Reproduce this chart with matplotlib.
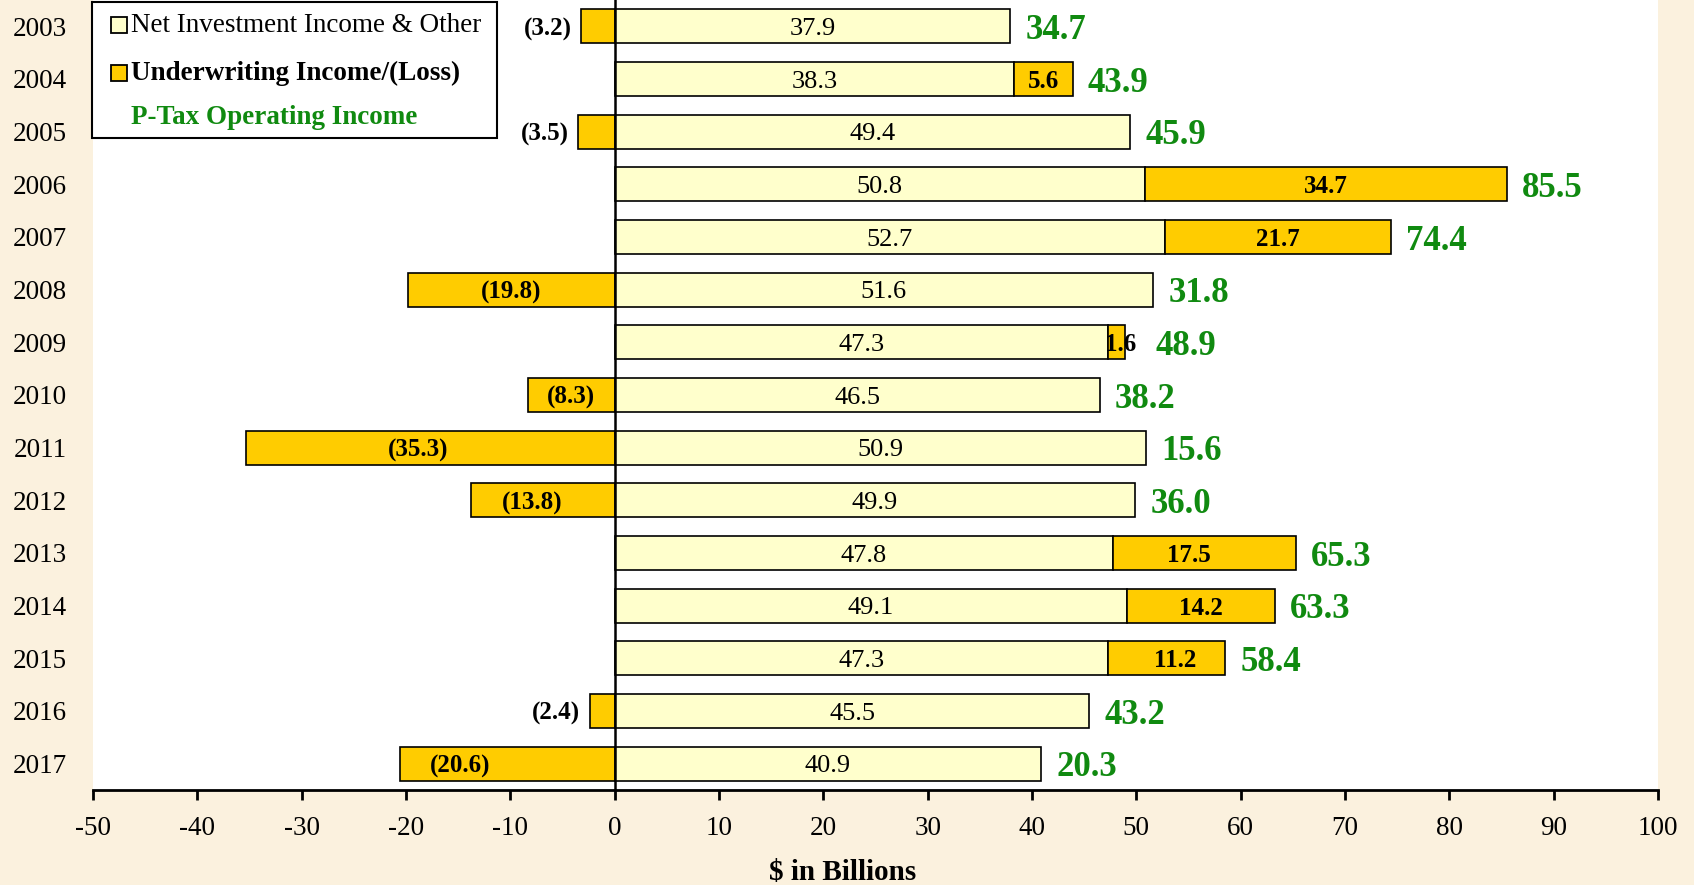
import numpy as np
import matplotlib.pyplot as plt
from matplotlib.patches import Rectangle

plt.rcParams['font.family'] = ['Liberation Serif', 'DejaVu Serif']
plt.rcParams['axes.unicode_minus'] = False

years = ['2003', '2004', '2005', '2006', '2007', '2008', '2009', '2010',
         '2011', '2012', '2013', '2014', '2015', '2016', '2017']
net_invest = [37.9, 38.3, 49.4, 50.8, 52.7, 51.6, 47.3, 46.5,
              50.9, 49.9, 47.8, 49.1, 47.3, 45.5, 40.9]
underwriting = [-3.2, 5.6, -3.5, 34.7, 21.7, -19.8, 1.6, -8.3,
                -35.3, -13.8, 17.5, 14.2, 11.2, -2.4, -20.6]
pretax_total = [34.7, 43.9, 45.9, 85.5, 74.4, 31.8, 48.9, 38.2,
                15.6, 36.0, 65.3, 63.3, 58.4, 43.2, 20.3]

# small hand nudges for a few underwriting labels (in $B)
uw_nudge = {'2011': -1.2, '2012': -1.0, '2013': -1.5, '2015': 0.8,
            '2017': -4.5, '2009': 0.4}

bg = '#FBF1DE'
light = '#FFFFCC'
gold = '#FFCC00'
green = '#108A10'

W, H = 1694, 885
fig = plt.figure(figsize=(W / 100, H / 100), dpi=100, facecolor=bg)
ax = fig.add_axes([93 / W, 95 / H, 1565 / W, 790 / H])
ax.set_facecolor('white')

y = np.arange(len(years))
h = 0.64

ax.barh(y, net_invest, height=h, color=light, edgecolor='black', linewidth=1.2, zorder=2)
# gains stack on the right of investment income, losses hang left of zero
uw_left = [n if u > 0 else 0 for n, u in zip(net_invest, underwriting)]
ax.barh(y, underwriting, left=uw_left, height=h, color=gold, edgecolor='black',
        linewidth=1.2, zorder=2)

ax.axvline(0, color='black', linewidth=1.8, zorder=3)

va = 'center_baseline'
for i, yr in enumerate(years):
    n, u, t = net_invest[i], underwriting[i], pretax_total[i]
    ax.text(n / 2, i, f'{n:.1f}', ha='center', va=va, fontsize=19, zorder=4)

    txt = f'({abs(u):.1f})' if u < 0 else f'{u:.1f}'
    if u < 0 and abs(u) < 4:
        ax.annotate(txt, (u, i), xytext=(-7, 0), textcoords='offset points',
                    ha='right', va=va, fontsize=18, fontweight='bold', zorder=4)
    else:
        cx = uw_left[i] + u / 2 + uw_nudge.get(yr, 0)
        ax.text(cx, i, txt, ha='center', va=va, fontsize=18,
                fontweight='bold', zorder=4)

    end = n + max(u, 0)
    dx = 22 if yr == '2009' else 11
    ax.annotate(f'{t:.1f}', (end, i), xytext=(dx, 0), textcoords='offset points',
                ha='left', va=va, fontsize=25, fontweight='bold', color=green)

ax.set_xlim(-50, 100)
ax.set_ylim(len(years) - 0.5, -0.5)
ax.set_xticks(np.arange(-50, 101, 10))
ax.set_yticks(y)
ax.set_yticklabels(years)

for s in ['left', 'right', 'top']:
    ax.spines[s].set_visible(False)
ax.spines['bottom'].set_linewidth(2)
ax.tick_params(axis='x', direction='out', length=7, width=2, labelsize=19.5, pad=12)
ax.tick_params(axis='y', length=0, labelsize=19.5, pad=19)
ax.set_xlabel('$ in Billions', fontsize=21, fontweight='bold', labelpad=13, x=0.479)

# legend box drawn by hand (figure pixel coords, measured from the top)
def fx(px):
    return px / W

def fy(py):
    return 1 - py / H

fig.patches.append(Rectangle((fx(92), fy(138)), fx(497) - fx(92), fy(2) - fy(138),
                             transform=fig.transFigure, facecolor='white',
                             edgecolor='black', linewidth=1.5, zorder=5))
leg_rows = [('Net Investment Income & Other', light, 'normal', 'black', 25),
            ('Underwriting Income/(Loss)', gold, 'bold', 'black', 73),
            ('P-Tax Operating Income', None, 'bold', green, 118)]
for label, fc, weight, col, py in leg_rows:
    if fc is not None:
        fig.patches.append(Rectangle((fx(111), fy(py + 8)), fx(16), 16 / H,
                                     transform=fig.transFigure, facecolor=fc,
                                     edgecolor='black', linewidth=1.3, zorder=6))
    fig.text(fx(131), fy(py), label, ha='left', va='center', fontsize=19.5,
             fontweight=weight, color=col, zorder=7)

fig.savefig('out.png', dpi=100, facecolor=bg)
